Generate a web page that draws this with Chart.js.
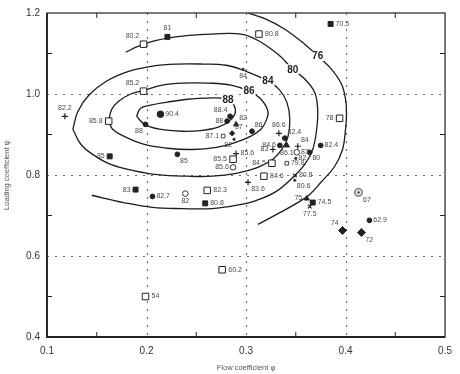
<!DOCTYPE html>
<html>
<head>
<meta charset="utf-8">
<script src="https://cdn.jsdelivr.net/npm/chart.js@4.4.0/dist/chart.umd.min.js"></script>
<style>
  html, body { margin: 0; padding: 0; background: #fff; }
</style>
</head>
<body>
<canvas id="chart" width="460" height="374"></canvas>
<script>
// axis ticks
const phiTicks = [0.1, 0.2, 0.3, 0.4, 0.5];
const psiTicks = [0.4, 0.6, 0.8, 1.0, 1.2];
const phiMinor = [0.15, 0.25, 0.35, 0.45];
const psiMinor = [0.5, 0.7, 0.9, 1.1];

// test points (flow coefficient, loading coefficient, efficiency, symbol)
const phi = [0.221, 0.197, 0.313, 0.385, 0.197, 0.118, 0.214, 0.199, 0.162, 0.163,
             0.231, 0.189, 0.206, 0.239, 0.261, 0.259, 0.199, 0.276, 0.413, 0.424,
             0.397, 0.416, 0.367, 0.361, 0.364, 0.394, 0.375, 0.364, 0.297, 0.284,
             0.281, 0.290, 0.277, 0.286, 0.288, 0.306, 0.333, 0.339, 0.334, 0.327,
             0.341, 0.352, 0.351, 0.350, 0.341, 0.349, 0.349, 0.326, 0.290, 0.287,
             0.287, 0.318, 0.302];
const psi = [1.141, 1.123, 1.148, 1.173, 1.007, 0.945, 0.950, 0.925, 0.933, 0.846,
             0.851, 0.764, 0.747, 0.754, 0.762, 0.730, 0.500, 0.566, 0.757, 0.688,
             0.663, 0.658, 0.732, 0.742, 0.722, 0.940, 0.873, 0.856, 1.061, 0.945,
             0.933, 0.925, 0.896, 0.903, 0.888, 0.908, 0.903, 0.891, 0.873, 0.863,
             0.873, 0.871, 0.856, 0.841, 0.829, 0.799, 0.787, 0.829, 0.853, 0.839,
             0.819, 0.797, 0.782];
const eta = ['81', '80.2', '80.8', '70.5', '85.2', '82.2', '90.4', '88', '85.8', '85',
             '85', '83', '82.7', '82', '82.3', '80.8', '54', '60.2', '67', '62.9',
             '74', '72', '74.5', '75', '77.5', '78', '82.4', '80', '84', '88.4',
             '88', '82', '87.1', '87', '82', '86', '86.6', '82.4', '84.6', '83',
             '86.1', '84', '83', '82', '79.8', '80.8', '80.6', '84.5', '85.6', '85.5',
             '85.6', '84.6', '83.6'];
const symbol = ['S', 'Q', 'Q', 'S', 'Q', 'P', 'B', 'C', 'Q', 'S',
                'C', 'S', 'C', 'O', 'Q', 'S', 'Q', 'Q', 'T', 'C',
                'D', 'D', 'S', 'A', 'X', 'Q', 'C', 'C', '.', 'C',
                'C', 'A', 'q', 'd', '.', 'C', 'P', 'C', 'C', 'P',
                'A', 'P', 'O', '.', 'q', 'X', '.', 'Q', 'P', 'Q',
                'O', 'Q', 'P'];
// where each efficiency label sits next to its symbol
const labelSide = ['t', 'lt', 'r', 'r', 'lt', 't', 'r', 'lb', 'l', 'l',
                   'rb', 'l', 'r', 'b', 'r', 'r', 'r', 'r', 'rb', 'r',
                   'lt', 'rb', 'r', 'l', 'b', 'l', 'r', 'rb', 'b', 'lt',
                   'l', 'rt', 'l', 'rt', 'lb', 'rt', 't', 'rt', 'l', 'l',
                   'b', 'rt', 'r', 'r', 'r', 'r', 'rb', 'l', 'r', 'l',
                   'l', 'r', 'rb'];

// efficiency contours
const contour88 = [[0.190, 0.945], [0.194, 0.965], [0.203, 0.972], [0.221, 0.980], [0.241, 0.987],
                   [0.261, 0.990], [0.282, 0.987], [0.288, 0.972], [0.289, 0.952], [0.283, 0.933],
                   [0.272, 0.918], [0.256, 0.910], [0.236, 0.908], [0.213, 0.913], [0.198, 0.925],
                   [0.190, 0.945]];
const contour86 = [[0.162, 0.933], [0.165, 0.962], [0.172, 0.982], [0.184, 1.000], [0.197, 1.009],
                   [0.216, 1.022], [0.236, 1.027], [0.261, 1.027], [0.285, 1.022], [0.303, 1.007],
                   [0.315, 0.987], [0.322, 0.957], [0.320, 0.933], [0.315, 0.913], [0.305, 0.896],
                   [0.290, 0.881], [0.270, 0.868], [0.246, 0.863], [0.221, 0.866], [0.197, 0.876],
                   [0.177, 0.896], [0.166, 0.913], [0.162, 0.933]];
const contour84 = [[0.126, 0.913], [0.131, 0.957], [0.142, 0.997], [0.160, 1.032], [0.182, 1.056],
                   [0.206, 1.069], [0.231, 1.074], [0.256, 1.074], [0.280, 1.071], [0.300, 1.056],
                   [0.322, 1.032], [0.333, 1.012], [0.341, 0.980], [0.344, 0.938], [0.342, 0.893],
                   [0.336, 0.863], [0.327, 0.839], [0.312, 0.819], [0.290, 0.804], [0.266, 0.797],
                   [0.241, 0.797], [0.211, 0.801], [0.187, 0.811], [0.164, 0.826], [0.147, 0.849],
                   [0.134, 0.876], [0.126, 0.913]];
const contour80 = [[0.179, 1.103], [0.192, 1.118], [0.211, 1.133], [0.236, 1.143], [0.266, 1.148],
                   [0.295, 1.148], [0.313, 1.131], [0.333, 1.096], [0.347, 1.061], [0.359, 1.037],
                   [0.369, 1.004], [0.372, 0.962], [0.371, 0.913], [0.367, 0.863], [0.359, 0.826],
                   [0.347, 0.794], [0.330, 0.759], [0.310, 0.737], [0.290, 0.725], [0.266, 0.717],
                   [0.236, 0.717], [0.206, 0.720], [0.177, 0.732], [0.145, 0.750]];
const contour76 = [[0.302, 1.200], [0.320, 1.185], [0.339, 1.160], [0.359, 1.123], [0.372, 1.094],
                   [0.386, 1.061], [0.396, 1.024], [0.400, 0.987], [0.401, 0.950], [0.400, 0.913],
                   [0.397, 0.863], [0.389, 0.821], [0.376, 0.784], [0.364, 0.752], [0.354, 0.735],
                   [0.334, 0.707], [0.312, 0.678]];
const contours = [contour88, contour86, contour84, contour80, contour76];
const contourLevels = ['88', '86', '84', '80', '76'];
const contourLabelAt = [6, 9, 10, 8, 4];

// circled dot symbol
function circledDot() {
  const c = document.createElement('canvas');
  c.width = c.height = 10;
  const g = c.getContext('2d');
  g.strokeStyle = '#222';
  g.lineWidth = 1;
  g.beginPath(); g.arc(5, 5, 3.8, 0, Math.PI * 2); g.stroke();
  g.fillStyle = '#222';
  g.beginPath(); g.arc(5, 5, 1.3, 0, Math.PI * 2); g.fill();
  return c;
}

const symbolStyle = {
  S: { pointStyle: 'rect', radius: 3.5, fill: '#222', border: '#222', width: 1 },
  Q: { pointStyle: 'rect', radius: 4.6, fill: '#fff', border: '#222', width: 1 },
  C: { pointStyle: 'circle', radius: 2.4, fill: '#222', border: '#222', width: 1 },
  B: { pointStyle: 'circle', radius: 3.3, fill: '#222', border: '#222', width: 1 },
  O: { pointStyle: 'circle', radius: 2.8, fill: '#fff', border: '#333', width: 1 },
  T: { pointStyle: circledDot(), radius: 5, fill: '#fff', border: '#222', width: 1 },
  D: { pointStyle: 'rectRot', radius: 4, fill: '#222', border: '#222', width: 1 },
  d: { pointStyle: 'rectRot', radius: 2.6, fill: '#222', border: '#222', width: 1 },
  P: { pointStyle: 'cross', radius: 3, fill: '#222', border: '#222', width: 1.2 },
  A: { pointStyle: 'triangle', radius: 3, fill: '#222', border: '#222', width: 1 },
  X: { pointStyle: 'crossRot', radius: 2.6, fill: '#222', border: '#222', width: 1.1 },
  q: { pointStyle: 'rect', radius: 2.6, fill: '#fff', border: '#333', width: 0.9 },
  '.': { pointStyle: 'circle', radius: 1.3, fill: '#333', border: '#333', width: 0.5 }
};

// one dataset per symbol, keeping the index of each point for its label
const pointSets = Object.keys(symbolStyle).map(code => {
  const idx = symbol.map((s, i) => s === code ? i : -1).filter(i => i >= 0);
  const st = symbolStyle[code];
  return {
    data: idx.map(i => ({ x: phi[i], y: psi[i], i })),
    pointStyle: st.pointStyle,
    pointRadius: st.radius,
    pointHoverRadius: st.radius,
    pointBackgroundColor: st.fill,
    pointBorderColor: st.border,
    pointBorderWidth: st.width,
    showLine: false
  };
}).filter(d => d.data.length);

const contourSets = contours.map(c => ({
  data: c.map(([x, y]) => ({ x, y })),
  showLine: true,
  borderColor: '#1c1c1c',
  borderWidth: 1.3,
  pointRadius: 0,
  pointHoverRadius: 0,
  tension: 0.4,
  fill: false,
  contour: true
}));

const FONT = '"Liberation Sans", Arial, sans-serif';

const decor = {
  id: 'decor',
  beforeDatasetsDraw(chart) {
    // dotted reference lines
    const { ctx, chartArea: a, scales: { x, y } } = chart;
    ctx.save();
    ctx.strokeStyle = '#6a6a6a';
    ctx.lineWidth = 1.1;
    ctx.setLineDash([2, 6]);
    phiTicks.slice(1, -1).forEach(v => {
      const px = Math.round(x.getPixelForValue(v)) + 0.5;
      ctx.beginPath(); ctx.moveTo(px, a.top); ctx.lineTo(px, a.bottom); ctx.stroke();
    });
    psiTicks.slice(1, -1).forEach(v => {
      const py = Math.round(y.getPixelForValue(v)) + 0.5;
      ctx.beginPath(); ctx.moveTo(a.left, py); ctx.lineTo(a.right, py); ctx.stroke();
    });
    ctx.restore();
  },
  afterDatasetsDraw(chart) {
    const { ctx, chartArea: a, scales: { x, y } } = chart;
    ctx.save();

    // contour level labels
    ctx.font = 'bold 10px ' + FONT;
    ctx.textAlign = 'center';
    ctx.textBaseline = 'middle';
    contours.forEach((c, k) => {
      const [vx, vy] = c[contourLabelAt[k]];
      const px = x.getPixelForValue(vx), py = y.getPixelForValue(vy);
      const w = ctx.measureText(contourLevels[k]).width;
      ctx.fillStyle = '#fff';
      ctx.fillRect(px - w / 2 - 1, py - 5, w + 2, 10);
      ctx.fillStyle = '#1c1c1c';
      ctx.fillText(contourLevels[k], px, py + 0.5);
    });

    // efficiency labels beside the symbols
    ctx.font = '7px ' + FONT;
    ctx.fillStyle = '#4a4a4a';
    chart.data.datasets.forEach((ds, di) => {
      if (ds.contour) return;
      const meta = chart.getDatasetMeta(di);
      meta.data.forEach((el, j) => {
        const i = ds.data[j].i;
        const side = labelSide[i];
        const off = ds.pointRadius + 1.5;
        let tx = el.x, ty = el.y;
        ctx.textAlign = 'center';
        ctx.textBaseline = 'middle';
        if (side === 'r') { tx += off; ctx.textAlign = 'left'; }
        if (side === 'l') { tx -= off; ctx.textAlign = 'right'; }
        if (side === 't') { ty -= off; ctx.textBaseline = 'bottom'; }
        if (side === 'b') { ty += off; ctx.textBaseline = 'top'; }
        if (side === 'lt') { tx -= off * 0.7; ty -= off * 0.7; ctx.textAlign = 'right'; ctx.textBaseline = 'bottom'; }
        if (side === 'rt') { tx += off * 0.7; ty -= off * 0.7; ctx.textAlign = 'left'; ctx.textBaseline = 'bottom'; }
        if (side === 'lb') { tx -= off * 0.7; ty += off * 0.7; ctx.textAlign = 'right'; ctx.textBaseline = 'top'; }
        if (side === 'rb') { tx += off * 0.7; ty += off * 0.7; ctx.textAlign = 'left'; ctx.textBaseline = 'top'; }
        ctx.fillText(eta[i], tx, ty);
      });
    });
    ctx.restore();
  },
  afterDraw(chart) {
    // frame and inward minor ticks
    const { ctx, chartArea: a, scales: { x, y } } = chart;
    ctx.save();
    ctx.strokeStyle = '#222';
    ctx.lineWidth = 1.2;
    ctx.strokeRect(a.left, a.top, a.right - a.left, a.bottom - a.top);
    ctx.lineWidth = 1.8;
    ctx.beginPath();
    ctx.moveTo(a.left, a.top); ctx.lineTo(a.left, a.bottom); ctx.lineTo(a.right, a.bottom);
    ctx.stroke();
    ctx.lineWidth = 1;
    ctx.beginPath();
    phiMinor.forEach(v => {
      const px = x.getPixelForValue(v);
      ctx.moveTo(px, a.bottom); ctx.lineTo(px, a.bottom - 5);
      ctx.moveTo(px, a.top); ctx.lineTo(px, a.top + 5);
    });
    psiMinor.forEach(v => {
      const py = y.getPixelForValue(v);
      ctx.moveTo(a.left, py); ctx.lineTo(a.left + 5, py);
      ctx.moveTo(a.right, py); ctx.lineTo(a.right - 5, py);
    });
    ctx.stroke();
    ctx.restore();
  }
};

new Chart(document.getElementById('chart'), {
  type: 'scatter',
  data: { datasets: [...pointSets, ...contourSets] },
  options: {
    responsive: false,
    animation: false,
    devicePixelRatio: 1,
    layout: { padding: { top: 13, right: 7, left: 0, bottom: 0 } },
    plugins: { legend: { display: false }, tooltip: { enabled: false } },
    scales: {
      x: {
        type: 'linear',
        min: 0.1,
        max: 0.5,
        afterBuildTicks: s => { s.ticks = phiTicks.map(v => ({ value: v })); },
        afterFit: s => { s.height = 37; },
        grid: { display: false, drawTicks: false },
        border: { display: false },
        ticks: {
          callback: v => v.toFixed(1),
          color: '#333',
          font: { family: FONT, size: 10 },
          padding: 8,
          maxRotation: 0
        },
        title: {
          display: true,
          text: 'Flow coefficient φ',
          color: '#555',
          font: { family: FONT, size: 7.5 },
          padding: { top: 0, bottom: 2 }
        }
      },
      y: {
        type: 'linear',
        min: 0.4,
        max: 1.2,
        afterBuildTicks: s => { s.ticks = psiTicks.map(v => ({ value: v })); },
        afterFit: s => { s.width = 47; },
        grid: { display: false, drawTicks: false },
        border: { display: false },
        ticks: {
          callback: v => v.toFixed(1),
          color: '#333',
          font: { family: FONT, size: 10 },
          padding: 7
        },
        title: {
          display: true,
          text: 'Loading coefficient ψ',
          color: '#555',
          font: { family: FONT, size: 7.5 },
          padding: { top: 2, bottom: 0 }
        }
      }
    }
  },
  plugins: [decor]
});
</script>
</body>
</html>
